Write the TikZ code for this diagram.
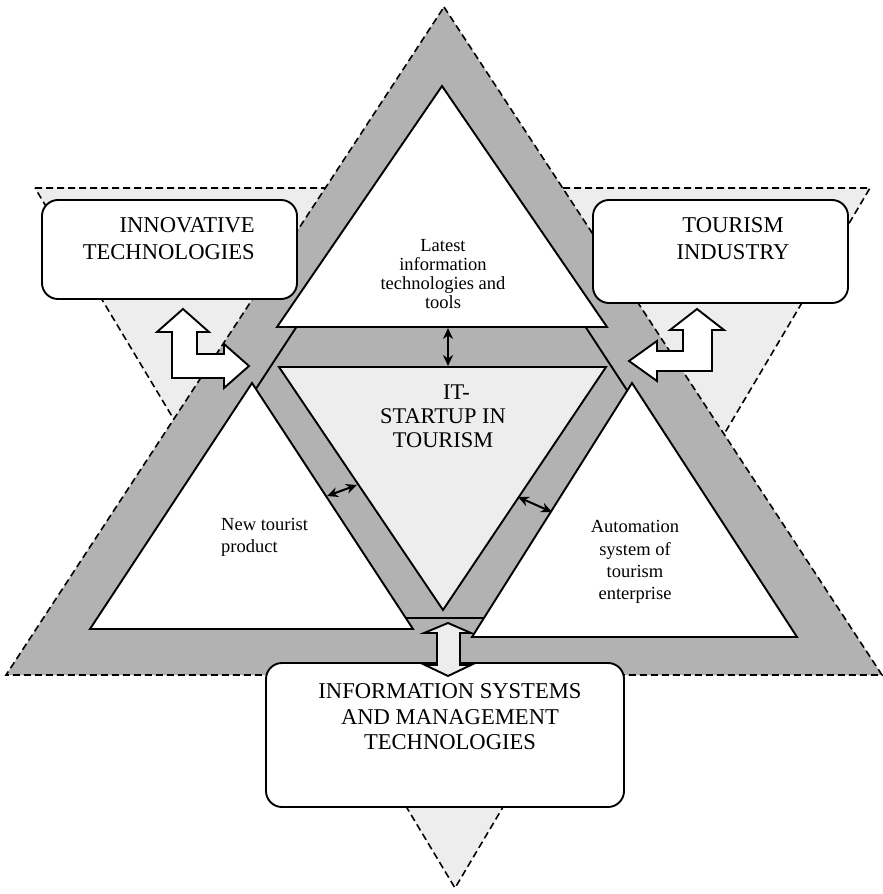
\documentclass[tikz,border=0pt]{standalone}
\usepackage{fontspec}
\setmainfont{Liberation Serif}
\usetikzlibrary{arrows.meta,positioning,calc}
\definecolor{bandgray}{gray}{0.70}
\definecolor{paledots}{gray}{0.93}

\begin{document}
\begin{tikzpicture}[x=1pt, y=-1pt,
    outline/.style={draw=black, line width=1.9pt, line join=miter},
    dashline/.style={draw=black, line width=1.6pt, dash pattern=on 7pt off 4pt},
    roundbox/.style={draw=black, line width=1.9pt, fill=white, rounded corners=16pt},
    bigtext/.style={font=\fontsize{22.6}{27}\selectfont, inner sep=0pt},
    smalltext/.style={font=\fontsize{18.5}{19.3}\selectfont, inner sep=0pt},
    hollow/.style={draw=black, line width=1.9pt, line join=miter},
    linkarrow/.style={line width=2pt, {Stealth[length=11pt,width=10pt]}-{Stealth[length=11pt,width=10pt]}}]
    \useasboundingbox (0,0) rectangle (883,894);

    % corner points
    \coordinate (outT) at (444,7);   \coordinate (outL) at (6,675);   \coordinate (outR) at (882,675);
    \coordinate (dnL) at (35,188);   \coordinate (dnR) at (870,188);  \coordinate (dnB) at (455,888);
    \coordinate (midT) at (441,106); \coordinate (midL) at (106,618); \coordinate (midR) at (776,618);
    \coordinate (topT) at (442,86);  \coordinate (topL) at (277,327); \coordinate (topR) at (607,327);
    \coordinate (cenL) at (279,367); \coordinate (cenR) at (606,367); \coordinate (cenB) at (443,610);
    \coordinate (lftT) at (252,383); \coordinate (lftL) at (90,629);  \coordinate (lftR) at (413,629);
    \coordinate (rgtT) at (632,383); \coordinate (rgtL) at (472,637); \coordinate (rgtR) at (797,637);

    % star
    \path[dashline, fill=paledots] (dnL) -- (dnR) -- (dnB) -- cycle;
    \path[dashline, fill=bandgray] (outT) -- (outR) -- (outL) -- cycle;
    \draw[outline] (midT) -- (midR) -- (midL) -- cycle;

    % inner triangles
    \filldraw[outline, fill=white] (topT) -- (topR) -- (topL) -- cycle;
    \filldraw[outline, fill=paledots] (cenL) -- (cenR) -- (cenB) -- cycle;
    \filldraw[outline, fill=white] (lftT) -- (lftR) -- (lftL) -- cycle;
    \filldraw[outline, fill=white] (rgtT) -- (rgtR) -- (rgtL) -- cycle;

    % boxes
    \node[roundbox, minimum width=255pt, minimum height=99pt] (innovbox) at (169.5,249.5) {};
    \node[roundbox, minimum width=255pt, minimum height=103pt] (tourbox) at (720.5,251.5) {};
    \node[roundbox, minimum width=358pt, minimum height=144pt] (infobox) at (445,735) {};

    \node[bigtext, align=right, anchor=east] (innovtext) at (255,238.5) {INNOVATIVE\\TECHNOLOGIES};
    \node[bigtext, align=center] (tourtext) at (733,239) {TOURISM\\INDUSTRY};
    \node[bigtext, align=center, font=\fontsize{22.6}{25.5}\selectfont] (infotext) at (450,717)
        {INFORMATION SYSTEMS\\AND MANAGEMENT\\TECHNOLOGIES};

    % texts in the triangles
    \node[smalltext, align=center] (latesttext) at (443,274)
        {Latest\\information\\technologies and\\tools};
    \node[bigtext, align=center, font=\fontsize{22.4}{24}\selectfont] (starttext) at (443,416)
        {\hspace*{1.2em}IT-\\STARTUP IN\\TOURISM};
    \node[smalltext, align=left, anchor=west, font=\fontsize{18.5}{22}\selectfont] (newtext) at (221,537)
        {New tourist\\product};
    \node[smalltext, align=center, font=\fontsize{18.5}{22.3}\selectfont] (autotext) at (635,562)
        {Automation\\system of\\tourism\\enterprise};

    % hollow arrows
    \filldraw[hollow, fill=white] (172,378) -- (172,332) -- (157,332) -- (183,309) -- (209,332)
        -- (197,332) -- (197,354) -- (224,354) -- (224,344) -- (249,366) -- (224,388)
        -- (224,378) -- cycle;
    \filldraw[hollow, fill=white] (712,371) -- (712,330) -- (724,330) -- (697,309) -- (670,330)
        -- (683,330) -- (683,351) -- (657,351) -- (657,341) -- (629,361) -- (657,381)
        -- (657,371) -- cycle;
    \filldraw[hollow, fill=paledots] (448,623) -- (471,633) -- (460,633) -- (460,665) -- (471,665)
        -- (448,676) -- (425,665) -- (437,665) -- (437,633) -- (424,633) -- cycle;

    % links between the triangles
    \coordinate (ta) at (448,328); \coordinate (tb) at (448,366);
    \coordinate (la) at (327,496); \coordinate (lb) at (357,485);
    \coordinate (ra) at (518,497); \coordinate (rb) at (552,512);
    \draw[linkarrow] (ta) -- (tb);
    \draw[linkarrow] (la) -- (lb);
    \draw[linkarrow] (ra) -- (rb);
\end{tikzpicture}
\end{document}
